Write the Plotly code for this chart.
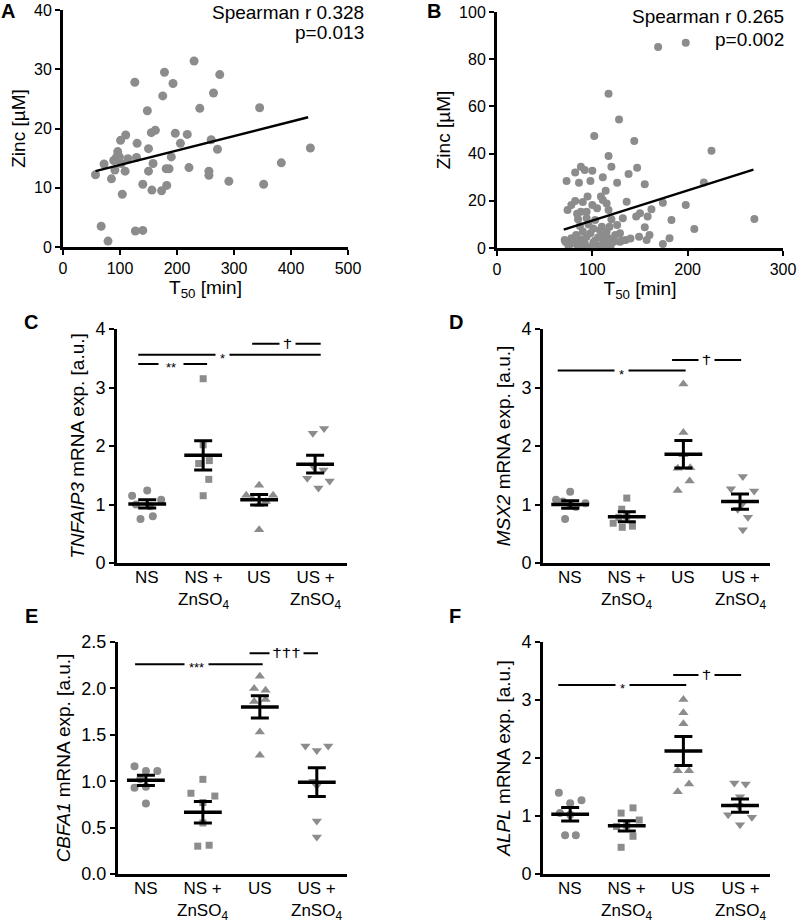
import plotly.graph_objects as go

# ---------------- Data ----------------
a_t50 = [57, 67, 72, 79, 85, 89, 91, 94, 96, 99,
         102, 101, 104, 109, 110, 114, 126, 127, 130, 129,
         140, 140, 148, 150, 150, 155, 156, 158, 162, 173,
         175, 178, 182, 181, 186, 190, 193, 197, 206, 218,
         221, 230, 240, 256, 256, 260, 264, 271, 275, 291,
         345, 352, 383, 434]
a_zinc = [12.2, 3.5, 14.0, 1.0, 11.5, 14.6, 13.0, 15.2, 16.1, 15.2,
          14.1, 18.0, 8.9, 12.8, 18.9, 14.9, 27.8, 2.7, 17.5, 15.1,
          10.6, 2.8, 23.0, 16.6, 12.8, 19.3, 9.6, 14.1, 19.7, 9.5,
          25.5, 29.5, 10.4, 13.2, 13.2, 15.2, 27.6, 19.2, 17.5, 19.0,
          13.4, 31.4, 23.4, 12.8, 12.1, 18.1, 26.0, 16.5, 29.1, 11.1,
          23.5, 10.6, 14.2, 16.7]
a_fit_x = [57, 430]
a_fit_y = [12.8, 21.9]
a_stat_r = "Spearman r 0.328"
a_stat_p = "p=0.013"

b_t50 = [169, 198, 117, 128, 102, 144, 117, 120, 88, 82,
         92, 100, 98, 86, 73, 111, 126, 138, 147, 155,
         114, 109, 95, 111, 115, 82, 74, 78, 100, 136,
         88, 94, 105, 117, 150, 158, 162, 174, 198, 85,
         94, 103, 120, 132, 146, 183, 207, 87, 101, 110,
         118, 126, 155, 98, 115, 129, 78, 71, 87, 94,
         106, 117, 124, 135, 149, 160, 157, 181, 174, 77,
         84, 92, 101, 111, 120, 129, 80, 89, 98, 106,
         115, 225, 217, 270, 72, 83, 91, 103, 110, 119,
         123, 90, 108, 96, 113, 131, 140, 75, 84, 90]
b_zinc = [85.2, 87.0, 65.4, 54.4, 47.5, 45.3, 39.0, 34.4, 34.4, 32.0,
          33.0, 32.7, 28.4, 27.7, 28.4, 30.0, 27.7, 31.4, 34.0, 27.0,
          24.3, 21.8, 21.8, 20.3, 18.9, 19.9, 16.1, 18.2, 18.2, 19.6,
          15.4, 15.4, 16.8, 16.1, 14.7, 13.3, 16.4, 19.2, 18.2, 12.2,
          12.6, 11.9, 12.2, 12.6, 13.3, 11.9, 8.0, 9.3, 8.3, 9.0,
          9.0, 9.7, 8.8, 6.2, 6.9, 6.2, 4.1, 3.4, 3.7, 4.8,
          4.5, 4.1, 5.5, 3.4, 4.8, 5.5, 3.4, 4.1, 1.7, 1.7,
          1.3, 2.0, 2.3, 1.7, 2.0, 2.7, 2.7, 0.6, 0.3, 0.6,
          0.8, 41.2, 27.8, 12.3, 2.5, 5.5, 1.2, 3.2, 5.5, 0.5,
          2.8, 7.0, 7.5, 10.0, 3.0, 3.2, 4.0, 0.8, 14.5, 19.5]
b_fit_x = [70, 269]
b_fit_y = [7.8, 33.2]
b_stat_r = "Spearman r 0.265"
b_stat_p = "p=0.002"

groups = ["NS", "NS +<br>ZnSO<sub>4</sub>", "US", "US +<br>ZnSO<sub>4</sub>"]

# Panel C: TNFAIP3
c_ns = [1.15, 1.24, 1.08, 0.75, 0.80, 1.00, 0.97]
c_ns_zn = [3.15, 2.02, 1.75, 1.70, 1.43, 1.15]
c_us = [1.33, 1.16, 1.16, 1.10, 1.05, 1.00, 0.57]
c_us_zn = [2.22, 2.30, 1.45, 1.40, 1.28, 1.59, 1.65]
c_means = [1.01, 1.84, 1.08, 1.69]
c_sems = [0.07, 0.25, 0.09, 0.15]

# Panel D: MSX2
d_ns = [1.08, 1.22, 1.02, 0.75, 0.96, 1.00, 1.05]
d_ns_zn = [1.11, 0.92, 0.68, 0.61, 0.63, 0.80, 0.78]
d_us = [3.06, 2.23, 1.24, 1.40, 1.62, 1.63, 1.85]
d_us_zn = [1.48, 1.27, 1.23, 0.57, 0.78, 0.92, 1.02]
d_means = [1.00, 0.79, 1.86, 1.05]
d_sems = [0.065, 0.085, 0.235, 0.13]

# Panel E: CBFA1
e_ns = [1.16, 1.11, 1.11, 0.93, 0.94, 0.76, 1.02]
e_ns_zn = [1.02, 0.87, 0.84, 0.77, 0.55, 0.30, 0.31]
e_us = [2.13, 2.00, 1.98, 1.86, 1.88, 1.53, 1.28]
e_us_zn = [1.38, 1.38, 1.33, 0.95, 0.57, 0.40, 1.00]
e_means = [1.01, 0.665, 1.80, 0.99]
e_sems = [0.055, 0.115, 0.12, 0.155]

# Panel F: ALPL
f_ns = [1.40, 1.22, 1.27, 0.67, 0.67, 1.02, 1.05]
f_ns_zn = [1.14, 1.05, 0.93, 0.84, 0.65, 0.46, 0.82]
f_us = [3.01, 2.78, 2.59, 1.78, 1.78, 1.55, 1.42]
f_us_zn = [1.57, 1.55, 1.02, 0.98, 0.85, 1.33, 1.18]
f_means = [1.03, 0.83, 2.12, 1.18]
f_sems = [0.115, 0.09, 0.25, 0.115]

# ---------------- Layout helpers ----------------
W, H = 800, 920
FONT = "Liberation Sans, Arial, sans-serif"
GRAY = "#8c8c8c"


def px_x(a, b):
    return [a / W, b / W]


def px_y(top, bottom):
    return [1 - bottom / H, 1 - top / H]


fig = go.Figure()
annotations = []
layout = dict(
    template="none",
    width=W, height=H, margin=dict(l=0, r=0, t=0, b=0, pad=0, autoexpand=False),
    paper_bgcolor="white", plot_bgcolor="white", showlegend=False,
    font=dict(family=FONT, size=16, color="black"),
)


def axis_common(tick_size=16, **kw):
    d = dict(showline=True, linecolor="black", linewidth=3, ticks="outside",
             ticklen=5, tickwidth=2, tickcolor="black", showgrid=False,
             zeroline=False, fixedrange=True, automargin=False,
             tickfont=dict(size=tick_size, color="black", family=FONT))
    d.update(kw)
    return d


def scatter_panel(n, xs, ys, fx, fy, stat_r, stat_p, xrange, xdtick, yrange, ydtick,
                  xdom, ydom, stats_x, stats_y, msize):
    xa, ya = f"x{n}", f"y{n}"
    fig.add_trace(go.Scatter(x=xs, y=ys, mode="markers", xaxis=xa, yaxis=ya,
                             marker=dict(size=msize, color=GRAY),
                             cliponaxis=False))
    fig.add_trace(go.Scatter(x=fx, y=fy, mode="lines", xaxis=xa, yaxis=ya,
                             line=dict(color="black", width=2.5)))
    layout[f"xaxis{n}"] = axis_common(
        domain=xdom, range=xrange, dtick=xdtick, anchor=ya,
        title=dict(text="T<sub>50</sub> [min]", font=dict(size=19), standoff=2))
    layout[f"yaxis{n}"] = axis_common(
        domain=ydom, range=yrange, dtick=ydtick, anchor=xa,
        title=dict(text="Zinc [µM]", font=dict(size=19), standoff=4))
    for txt, yy in [(stat_r, stats_y[0]), (stat_p, stats_y[1])]:
        annotations.append(dict(x=stats_x / W, y=1 - yy / H, xref="paper", yref="paper",
                                xanchor="right", yanchor="middle", align="right",
                                text=txt, showarrow=False, font=dict(size=19)))


def dot_panel(n, vals, jitters, means, sems, ytitle, yrange, ydtick, xrange,
              xdom, ydom, axis_px, sigs, tickformat=None):
    xa, ya = f"x{n}", f"y{n}"
    symbols = ["circle", "square", "triangle-up", "triangle-down"]
    sizes = [8, 7, 9, 9]
    for i, (v, jit) in enumerate(zip(vals, jitters)):
        fig.add_trace(go.Scatter(
            x=[i + j for j in jit], y=v, mode="markers", xaxis=xa, yaxis=ya,
            marker=dict(symbol=symbols[i], size=sizes[i], color=GRAY),
            cliponaxis=False))
    fig.add_trace(go.Scatter(
        x=list(range(len(means))), y=means, mode="markers", xaxis=xa, yaxis=ya,
        marker=dict(symbol="line-ew", size=27, color="black",
                    line=dict(width=3.5, color="black")),
        error_y=dict(type="data", array=sems, thickness=3, width=9, color="black"),
        cliponaxis=False))
    for (x0, x1, y, tx, text, w, fs, ysh) in sigs:
        fig.add_trace(go.Scatter(x=[x0, x1], y=[y, y], mode="lines",
                                 xaxis=xa, yaxis=ya, cliponaxis=False,
                                 line=dict(color="black", width=2)))
        annotations.append(dict(x=tx, y=y, xref=xa, yref=ya, text=text,
                                showarrow=False, bgcolor="white", width=w,
                                height=10, borderpad=0, yshift=ysh,
                                font=dict(size=fs, color="black")))
    # category labels (two-line) placed just under the axis
    for i, g in enumerate(groups):
        annotations.append(dict(x=i, y=1 - (axis_px + 4) / H, xref=xa, yref="paper",
                                xanchor="center", yanchor="top", align="center",
                                text=g, showarrow=False, borderpad=0,
                                font=dict(size=17, color="black")))
    ax = axis_common(tick_size=18, domain=ydom, range=yrange, dtick=ydtick, anchor=xa,
                     title=dict(text=ytitle, font=dict(size=19), standoff=6))
    if tickformat:
        ax["tickformat"] = tickformat
    layout[f"yaxis{n}"] = ax
    layout[f"xaxis{n}"] = axis_common(domain=xdom, range=xrange, anchor=ya,
                                      tickvals=[0, 1, 2, 3], showticklabels=False,
                                      ticks="")


# ---------------- Panels ----------------
scatter_panel(1, a_t50, a_zinc, a_fit_x, a_fit_y, a_stat_r, a_stat_p, [0, 500], 100,
              [0, 40], 10, px_x(63, 348), px_y(10, 247), 366, (12, 33), 9)
scatter_panel(2, b_t50, b_zinc, b_fit_x, b_fit_y, b_stat_r, b_stat_p, [0, 300], 100,
              [0, 100], 20, px_x(497, 783), px_y(12, 248), 786, (16, 39), 8)

J_C = [[-0.27, 0, 0.25, -0.12, 0.1, -0.2, 0.05],
       [0, 0, 0.11, -0.08, 0.1, 0],
       [0, -0.23, 0.25, -0.12, 0.12, 0, 0],
       [-0.04, 0.16, -0.14, 0.26, 0.06, 0.15, -0.03]]
J_D = [[-0.25, 0, 0.27, -0.09, 0.1, 0, -0.13],
       [0, -0.09, -0.24, -0.08, 0.1, 0, -0.14],
       [0, 0, -0.1, 0.11, -0.1, 0.12, 0],
       [0.05, -0.16, 0.25, 0.05, 0.14, -0.04, 0.05]]
J_E = [[-0.2, 0, 0.2, -0.2, 0, 0, -0.1],
       [0, -0.21, 0.21, 0, 0, -0.09, 0.11],
       [0, -0.1, 0.1, -0.1, 0.1, 0, 0],
       [-0.2, 0.2, 0, 0, 0, 0, -0.06]]
J_F = [[-0.2, 0, 0.2, -0.09, 0.1, 0, -0.18],
       [0.11, -0.1, 0.22, 0, 0.11, -0.1, -0.18],
       [0, 0, 0, -0.1, 0.1, 0.1, -0.1],
       [-0.1, 0.1, -0.21, 0.21, 0, 0, -0.03]]

dot_panel(3, [c_ns, c_ns_zn, c_us, c_us_zn], J_C, c_means, c_sems,
          "<i>TNFAIP3</i> mRNA exp. [a.u.]", [0, 4], 1, [-0.54, 3.57],
          px_x(117, 347), px_y(329, 563), 563,
          [(-0.16, 1.07, 3.40, 0.43, "**", 24, 13, -3),
           (-0.16, 3.1, 3.56, 1.34, "*", 13, 13, -3),
           (1.875, 3.1, 3.75, 2.5, "†", 15, 17, 0)])
dot_panel(4, [d_ns, d_ns_zn, d_us, d_us_zn], J_D, d_means, d_sems,
          "<i>MSX2</i> mRNA exp. [a.u.]", [0, 4], 1, [-0.48, 3.53],
          px_x(543, 770), px_y(329, 563), 563,
          [(-0.22, 2.04, 3.29, 0.91, "*", 13, 13, -3),
           (1.8, 3.02, 3.47, 2.41, "†", 15, 17, 0)])
dot_panel(5, [e_ns, e_ns_zn, e_us, e_us_zn], J_E, e_means, e_sems,
          "<i>CBFA1</i> mRNA exp. [a.u.]", [0, 2.5], 0.5, [-0.49, 3.53],
          px_x(118, 347), px_y(642, 874), 874,
          [(-0.19, 2.05, 2.26, 0.89, "***", 23, 13, -3),
           (1.82, 3.02, 2.38, 2.47, "†††", 33, 17, 0)], tickformat=".1f")
dot_panel(6, [f_ns, f_ns_zn, f_us, f_us_zn], J_F, f_means, f_sems,
          "<i>ALPL</i> mRNA exp. [a.u.]", [0, 4], 1, [-0.48, 3.53],
          px_x(543, 770), px_y(642, 874), 874,
          [(-0.21, 2.05, 3.26, 0.93, "*", 13, 13, -3),
           (1.82, 3.02, 3.43, 2.41, "†", 15, 17, 0)])

# Panel letters
for letter, x, y in [("A", 8, 11), ("B", 434, 11), ("C", 31, 322),
                     ("D", 456, 322), ("E", 31, 616), ("F", 455, 616)]:
    annotations.append(dict(x=x / W, y=1 - y / H, xref="paper", yref="paper",
                            xanchor="center", yanchor="middle", text=f"<b>{letter}</b>",
                            showarrow=False, font=dict(size=20, color="black")))

layout["annotations"] = annotations
fig.update_layout(**layout)
fig.write_html(
    "out.html",
    config={"displayModeBar": False, "staticPlot": True},
    post_script="document.body.style.margin='0';document.body.style.overflow='hidden';",
)
